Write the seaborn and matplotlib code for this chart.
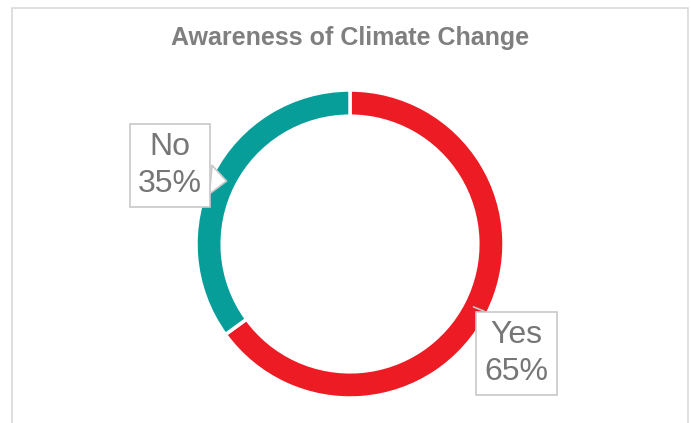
import numpy as np
import seaborn as sns
import matplotlib.pyplot as plt
from matplotlib.patches import Rectangle

# data
categories = ["Yes", "No"]
shares = [65, 35]
colors = ["#ED1C24", "#079E9A"]
title = "Awareness of Climate Change"

sns.set_theme(style="white")
plt.rcParams['font.family'] = ['Liberation Sans', 'DejaVu Sans']

W, H = 691, 423
fig = plt.figure(figsize=(W / 100, H / 100), dpi=100)
ax = fig.add_axes([0, 0, 1, 1])

# pixel layout: donut centre and radius
cx, cy, R = 350, 244, 154

wedges, _ = ax.pie(shares, colors=colors, startangle=90, counterclock=False,
                   radius=1, wedgeprops=dict(width=0.17, edgecolor="white", linewidth=2.5))
ax.set_aspect('auto')
ax.set_xlim(-cx / R, (W - cx) / R)
ax.set_ylim(-(H - cy) / R, cy / R)
ax.axis('off')

text_col = "#767676"
box_col = "#C8C8C8"

# label positions (layout) relative to donut centre, in radius units
label_pos = {"Yes": (1.08, -0.71), "No": (-1.17, 0.51)}

for w, cat, val in zip(wedges, categories, shares):
    mid = np.deg2rad((w.theta1 + w.theta2) / 2)
    tip = (0.9 * np.cos(mid), 0.9 * np.sin(mid))
    if cat == "No":
        arrow = dict(arrowstyle="wedge,tail_width=0.9,shrink_factor=0.5",
                     fc="white", ec=box_col, lw=1.2, shrinkA=0, shrinkB=0,
                     relpos=(1.0, 0.3))
    else:
        arrow = dict(arrowstyle="-", color=box_col, lw=1.2, shrinkA=0, shrinkB=0,
                     relpos=(0.35, 1.0))
    ax.annotate(f"{cat}\n{val}%", xy=tip, xytext=label_pos[cat],
                ha="center", va="center", fontsize=23, color=text_col,
                linespacing=1.3, zorder=5,
                bbox=dict(boxstyle="square,pad=0.26", fc="white", ec=box_col, lw=1.2),
                arrowprops=arrow)

fig.text(cx / W, 1 - 38 / H, title, ha="center", va="center",
         fontsize=18, fontweight="bold", color="#7F7F7F")

# chart frame
fig.patches.append(Rectangle((12 / W, -0.1), (688 - 12) / W, 1.1 - 8 / H,
                             transform=fig.transFigure, fill=False,
                             ec="#D9D9D9", lw=1.2))

fig.savefig("out.png", dpi=100)
